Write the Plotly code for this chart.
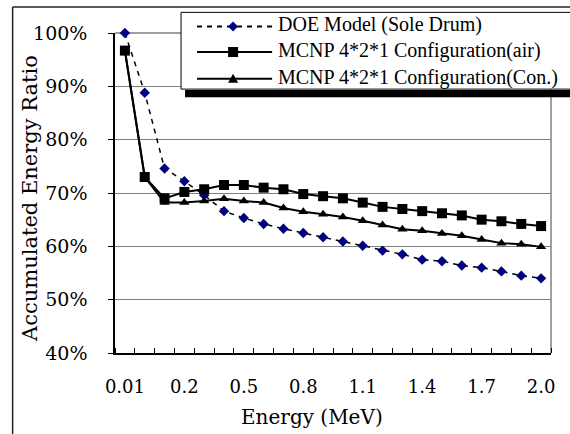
import plotly.graph_objects as go

# ---- data ----
energy_labels = ['0.01', '0.05', '0.1', '0.2', '0.3', '0.4', '0.5', '0.6', '0.7', '0.8', '0.9',
                 '1.0', '1.1', '1.2', '1.3', '1.4', '1.5', '1.6', '1.7', '1.8', '1.9', '2.0']
doe_model = [100.0, 88.8, 74.6, 72.2, 69.6, 66.6, 65.3, 64.2, 63.3, 62.5, 61.7,
             60.9, 60.1, 59.2, 58.5, 57.5, 57.2, 56.4, 56.0, 55.3, 54.5, 54.0]
mcnp_air = [96.7, 73.0, 69.0, 70.2, 70.7, 71.5, 71.5, 71.0, 70.7, 69.8, 69.4,
            69.0, 68.2, 67.4, 67.0, 66.6, 66.2, 65.8, 65.0, 64.7, 64.2, 63.8]
mcnp_con = [96.7, 73.0, 68.2, 68.2, 68.5, 68.9, 68.5, 68.2, 67.2, 66.5, 66.0,
            65.5, 64.8, 64.0, 63.2, 62.9, 62.4, 62.0, 61.3, 60.6, 60.4, 59.9]
series_names = ['DOE Model (Sole Drum)', 'MCNP 4*2*1 Configuration(air)',
                'MCNP 4*2*1 Configuration(Con.)']
y_ticks = [40, 50, 60, 70, 80, 90, 100]
y_tick_text = ['40%', '50%', '60%', '70%', '80%', '90%', '100%']
label_step = 3

# ---- layout geometry (pixels) ----
WIDTH, HEIGHT = 570, 434
L, R, T, B = 115, 19.3, 33.3, 81.3
PW, PH = WIDTH - L - R, HEIGHT - T - B


def fx(x):
    return (x - L) / PW


def fy(y):
    return 1 - (y - T) / PH


x_idx = list(range(len(energy_labels)))
tick_idx = x_idx[::label_step]
tick_txt = [energy_labels[i] for i in tick_idx]

fig = go.Figure()
fig.add_trace(go.Scatter(
    x=x_idx, y=doe_model, mode='lines+markers', name=series_names[0],
    line=dict(color='black', width=1.5, dash='5px,5px'),
    marker=dict(symbol='diamond', size=8, color='#000080'),
    cliponaxis=False, showlegend=False))
fig.add_trace(go.Scatter(
    x=x_idx, y=mcnp_air, mode='lines+markers', name=series_names[1],
    line=dict(color='black', width=2),
    marker=dict(symbol='square', size=10, color='black'),
    cliponaxis=False, showlegend=False))
fig.add_trace(go.Scatter(
    x=x_idx, y=mcnp_con, mode='lines+markers', name=series_names[2],
    line=dict(color='black', width=2),
    marker=dict(symbol='triangle-up', size=9, color='black'),
    cliponaxis=False, showlegend=False))

shapes = []
# plot frame (gray top/right)
shapes.append(dict(type='line', xref='paper', yref='paper', x0=1, x1=1, y0=0, y1=1,
                   line=dict(color='#808080', width=1.5), layer='below'))
shapes.append(dict(type='line', xref='paper', yref='paper', x0=0, x1=1, y0=1, y1=1,
                   line=dict(color='#808080', width=1.5), layer='below'))
# outer chart border (top / left visible)
shapes.append(dict(type='line', xref='paper', yref='paper', x0=fx(12.7), x1=fx(600),
                   y0=fy(7.3), y1=fy(7.3), line=dict(color='#222', width=1.5)))
shapes.append(dict(type='line', xref='paper', yref='paper', x0=fx(12.7), x1=fx(12.7),
                   y0=fy(7.3), y1=fy(450), line=dict(color='#222', width=1.5)))
# legend box + shadow
shapes.append(dict(type='rect', xref='paper', yref='paper', x0=fx(185), x1=fx(620),
                   y0=fy(90.3), y1=fy(97.5), fillcolor='black', line=dict(width=0)))
shapes.append(dict(type='rect', xref='paper', yref='paper', x0=fx(181), x1=fx(620),
                   y0=fy(12.7), y1=fy(89.3), fillcolor='white',
                   line=dict(color='black', width=1)))

rows = [26.7, 52.3, 79.0]
mx = 233
styles = [dict(color='black', width=2, dash='5px,5px'),
          dict(color='black', width=2),
          dict(color='black', width=2)]


def poly(pts):
    return 'M ' + ' L '.join(f'{fx(a):.5f},{fy(b):.5f}' for a, b in pts) + ' Z'


for i, ry in enumerate(rows):
    shapes.append(dict(type='line', xref='paper', yref='paper', x0=fx(197), x1=fx(272),
                       y0=fy(ry), y1=fy(ry), line=styles[i]))
    if i == 0:
        pts = [(mx - 5, ry), (mx, ry - 5), (mx + 5, ry), (mx, ry + 5)]
        shapes.append(dict(type='path', xref='paper', yref='paper', path=poly(pts),
                           fillcolor='#000080', line=dict(width=0)))
    elif i == 1:
        pts = [(mx - 5, ry - 5), (mx + 5, ry - 5), (mx + 5, ry + 5), (mx - 5, ry + 5)]
        shapes.append(dict(type='path', xref='paper', yref='paper', path=poly(pts),
                           fillcolor='black', line=dict(width=0)))
    else:
        pts = [(mx - 5, ry + 4), (mx + 5, ry + 4), (mx, ry - 5)]
        shapes.append(dict(type='path', xref='paper', yref='paper', path=poly(pts),
                           fillcolor='black', line=dict(width=0)))

annotations = []
for i, ry in enumerate(rows):
    annotations.append(dict(xref='paper', yref='paper', x=fx(276), y=fy(ry - 1.5),
                            xanchor='left', yanchor='middle', showarrow=False,
                            text=series_names[i],
                            font=dict(family='Liberation Serif', size=20, color='black')))
annotations.append(dict(xref='paper', yref='paper', x=fx(30), y=fy(198), textangle=-90,
                        xanchor='center', yanchor='middle', showarrow=False,
                        text='Accumulated Energy Ratio',
                        font=dict(family='DejaVu Serif', size=21, color='black')))
annotations.append(dict(xref='paper', yref='paper', x=fx(312), y=fy(417),
                        xanchor='center', yanchor='middle', showarrow=False,
                        text='Energy (MeV)',
                        font=dict(family='DejaVu Serif', size=20, color='black')))

fig.update_layout(
    width=WIDTH, height=HEIGHT,
    margin=dict(l=L, r=R, t=T, b=B, pad=0, autoexpand=False),
    paper_bgcolor='white', plot_bgcolor='white',
    shapes=shapes, annotations=annotations,
    xaxis=dict(range=[-0.5, len(energy_labels) - 0.5], showgrid=False, zeroline=False,
               automargin=False,
               showline=True, linecolor='black', linewidth=1.5,
               tickmode='array', tickvals=tick_idx, ticktext=tick_txt, ticks='',
               ticklabelstandoff=17,
               tickfont=dict(family='DejaVu Serif', size=18, color='black'),
               minor=dict(tickmode='linear', tick0=-0.5, dtick=1, ticks='inside',
                          ticklen=5, tickwidth=1, tickcolor='black', showgrid=False)),
    yaxis=dict(range=[40, 100], tickmode='array', tickvals=y_ticks, ticktext=y_tick_text,
               automargin=False,
               showgrid=True, gridcolor='#808080', gridwidth=1.2, zeroline=False,
               showline=True, linecolor='black', linewidth=1.5,
               ticks='outside', ticklen=5, tickcolor='black', ticklabelstandoff=17,
               tickfont=dict(family='DejaVu Serif', size=19, color='black')),
)

fig.write_html('out.html', config={'displayModeBar': False},
               post_script="document.body.style.margin='0';document.body.style.overflow='hidden';")
